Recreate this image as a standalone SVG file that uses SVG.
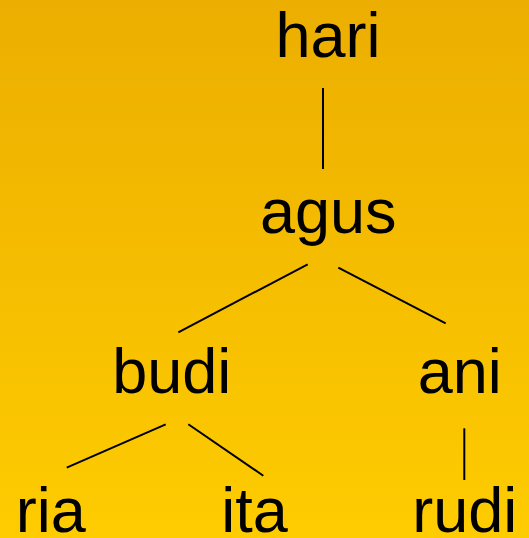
<svg xmlns="http://www.w3.org/2000/svg" width="529" height="538" viewBox="0 0 529 538">
<defs>
<linearGradient id="bg" x1="0" y1="0" x2="0" y2="1">
<stop offset="0" stop-color="#ECAE00"/>
<stop offset="1" stop-color="#FECC00"/>
</linearGradient>
</defs>
<style>
.lbl{font-family:"Liberation Sans",Arial,sans-serif;font-size:63px;fill:#000;text-anchor:middle}
.edge{stroke:#000;stroke-width:2;fill:none}
</style>
<rect width="529" height="538" fill="url(#bg)"/>
<g id="connectors">
<line class="edge" x1="323" y1="88" x2="323" y2="169"/>
<line class="edge" x1="307.7" y1="264.3" x2="178.3" y2="332.3"/>
<line class="edge" x1="338.3" y1="267.7" x2="445.7" y2="323.3"/>
<line class="edge" x1="165.7" y1="424.3" x2="66.7" y2="467.7"/>
<line class="edge" x1="188.3" y1="424.3" x2="263.3" y2="475.7"/>
<line class="edge" x1="464.3" y1="428.3" x2="464.3" y2="480"/>
</g>
<g id="hari"><text class="lbl" x="328" y="57">hari</text></g>
<g id="agus"><text class="lbl" x="328.3" y="233">agus</text></g>
<g id="budi"><text class="lbl" x="171.7" y="393">budi</text></g>
<g id="ani"><text class="lbl" x="459.7" y="393">ani</text></g>
<g id="ria"><text class="lbl" x="50.7" y="532">ria</text></g>
<g id="ita"><text class="lbl" x="254.5" y="532">ita</text></g>
<g id="rudi"><text class="lbl" x="464.8" y="532">rudi</text></g>
</svg>
